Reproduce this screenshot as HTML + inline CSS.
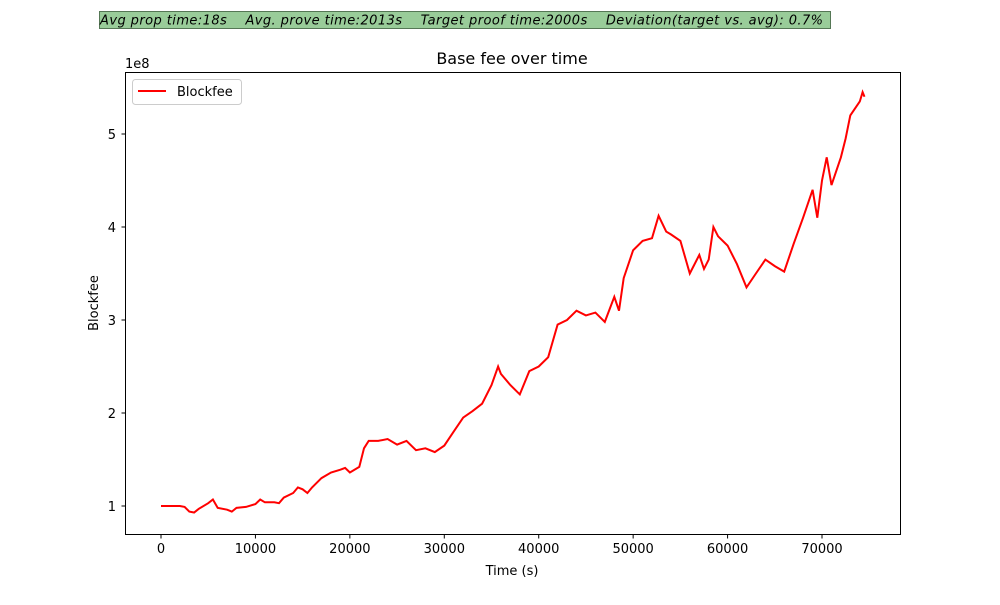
<!DOCTYPE html>
<html><head><meta charset="utf-8"><style>
body{margin:0;background:#fff;font-family:"Liberation Sans","DejaVu Sans",sans-serif}
text{white-space:pre}
</style></head><body>
<svg width="1000" height="600" xmlns="http://www.w3.org/2000/svg" font-family="'DejaVu Sans','Liberation Sans',sans-serif">
<rect x="99.5" y="11.5" width="731" height="17" fill="#99cc99" stroke="#557755"/>
<text x="100" y="24.5" font-size="13" font-style="italic" fill="#000" xml:space="preserve" textLength="723" lengthAdjust="spacing">Avg prop time:18s    Avg. prove time:2013s    Target proof time:2000s    Deviation(target vs. avg): 0.7%</text>
<text x="512" y="64" font-size="16" text-anchor="middle">Base fee over time</text>
<rect x="125.5" y="72.5" width="775" height="462" fill="#fff" stroke="#000" stroke-width="1"/>
<g id="xt"></g><g id="yt"></g>
<text x="512" y="575" font-size="13" text-anchor="middle">Time (s)</text>
<text transform="translate(98,303) rotate(-90)" font-size="13" text-anchor="middle">Blockfee</text>
<text x="125" y="68" font-size="13">1e8</text>
<path id="line" fill="none" stroke="red" stroke-width="2"/>
<g>
<rect x="132.5" y="79.5" width="109" height="25" rx="3" fill="#fff" stroke="#ccc"/>
<line x1="138" y1="91" x2="166" y2="91" stroke="red" stroke-width="2"/>
<text x="177" y="96" font-size="13">Blockfee</text>
</g>
</svg>
<script>
const times=[0,2,2.5,3,3.5,4,5,5.5,6,7,7.5,8,9,10,10.5,11,12,12.5,13,14,14.5,15,15.5,16,17,18,19,19.5,20,21,21.5,22,23,24,25,26,27,28,29,30,31,32,33,34,35,35.7,36,37,38,39,40,41,42,43,44,45,46,47,48,48.5,49,50,51,52,52.7,53.5,54,55,56,57,57.5,58,58.5,59,60,61,62,63,64,65,66,67,68,69,69.5,70,70.5,71,72,72.5,73,74,74.3,74.5];
const fees=[1.0,1.0,0.99,0.94,0.93,0.97,1.03,1.07,0.98,0.96,0.94,0.98,0.99,1.02,1.07,1.04,1.04,1.03,1.09,1.14,1.2,1.18,1.14,1.2,1.3,1.36,1.39,1.41,1.36,1.42,1.62,1.7,1.7,1.72,1.66,1.7,1.6,1.62,1.58,1.65,1.8,1.95,2.02,2.1,2.3,2.5,2.42,2.3,2.2,2.45,2.5,2.6,2.95,3.0,3.1,3.05,3.08,2.98,3.25,3.1,3.45,3.75,3.85,3.88,4.12,3.95,3.92,3.85,3.5,3.7,3.55,3.65,4.0,3.9,3.8,3.6,3.35,3.5,3.65,3.58,3.52,3.82,4.1,4.4,4.1,4.5,4.75,4.45,4.75,4.95,5.2,5.35,5.45,5.4];
const xTicks=[0,10000,20000,30000,40000,50000,60000,70000];
const yTicks=[1,2,3,4,5];
const X=t=>161+t*0.009443;
const Y=v=>506-(v-1)*93;
const NS="http://www.w3.org/2000/svg";
function mk(tag,attrs,parent){const e=document.createElementNS(NS,tag);for(const k in attrs)e.setAttribute(k,attrs[k]);parent.appendChild(e);return e;}
const xt=document.getElementById('xt'),yt=document.getElementById('yt');
xTicks.forEach(t=>{const x=X(t);
 const l=mk('line',{x1:x,x2:x,y1:534.5,y2:538.5,stroke:'#000'},xt);
 
 
 const tx=mk('text',{x:x,y:553,'font-size':13,'text-anchor':'middle'},xt);tx.textContent=t;
 
 });
yTicks.forEach(v=>{const y=Y(v);
 const l=mk('line',{x1:121.5,x2:125.5,y1:y,y2:y,stroke:'#000'},yt);
 
 
 const tx=mk('text',{x:116,y:y+5,'font-size':13,'text-anchor':'end'},yt);tx.textContent=v;
 
 });
let d='';times.forEach((t,i)=>{d+=(i?'L':'M')+X(t*1000).toFixed(1)+','+Y(fees[i]).toFixed(1);});
document.getElementById('line').setAttribute('d',d);
</script>
</body></html>
